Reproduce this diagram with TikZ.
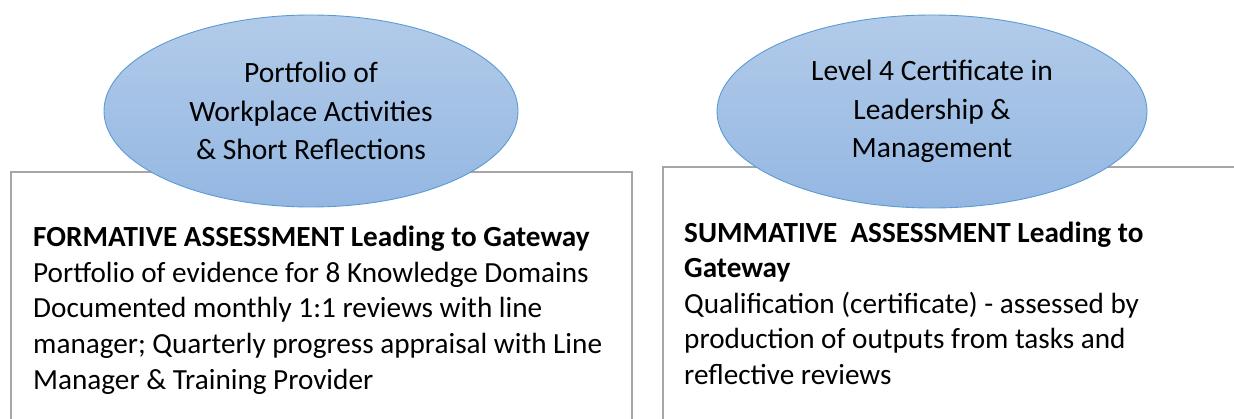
\documentclass[tikz,border=0pt]{standalone}
\usepackage{fontspec}
\setmainfont{Carlito}
\usetikzlibrary{shapes.geometric}
\definecolor{ellfillT}{RGB}{178,203,233}
\definecolor{ellfillB}{RGB}{148,183,226}
\definecolor{ellline}{RGB}{91,155,213}
\definecolor{boxline}{RGB}{166,166,166}
\tikzset{
  bubble/.style={ellipse, draw=ellline, line width=0.9pt, top color=ellfillT, bottom color=ellfillB,
    inner sep=0pt, align=center, font=\fontsize{29.5}{38.5}\selectfont},
  panel/.style={draw=boxline, line width=2.6pt, fill=white},
  bodytext/.style={anchor=base west, inner sep=0pt, align=left, font=\fontsize{29.2}{35.6}\selectfont}
}
\begin{document}
\begin{tikzpicture}[x=1pt,y=-1pt]
\useasboundingbox (0,0) rectangle (1234,419);
\clip (0,0) rectangle (1234,419);
% panels
\draw[panel] (11,172) rectangle (632,440);
\draw[panel] (663,167) rectangle (1260,440);
% panel texts (base anchor = baseline of the last line)
\node[bodytext] (t1) at (33,389.1) {\textbf{FORMATIVE ASSESSMENT Leading to Gateway}\\Portfolio of evidence for 8 Knowledge Domains\\Documented monthly 1:1 reviews with line\\manager; Quarterly progress appraisal with Line\\Manager \& Training Provider};
\node[bodytext] (t2) at (684,384.4) {\textbf{SUMMATIVE\ \ ASSESSMENT Leading to}\\\textbf{Gateway}\\Qualification (certificate) - assessed by\\production of outputs from tasks and\\reflective reviews};
% bubbles
\node[bubble, minimum width=414pt, minimum height=192pt] (e1) at (311,111) {Portfolio of\\Workplace Activities\\\& Short Reflections};
\node[bubble, minimum width=430pt, minimum height=193pt] (e2) at (932,111.5) {Level 4 Certificate in\\Leadership \&\\Management};
\end{tikzpicture}
\end{document}
